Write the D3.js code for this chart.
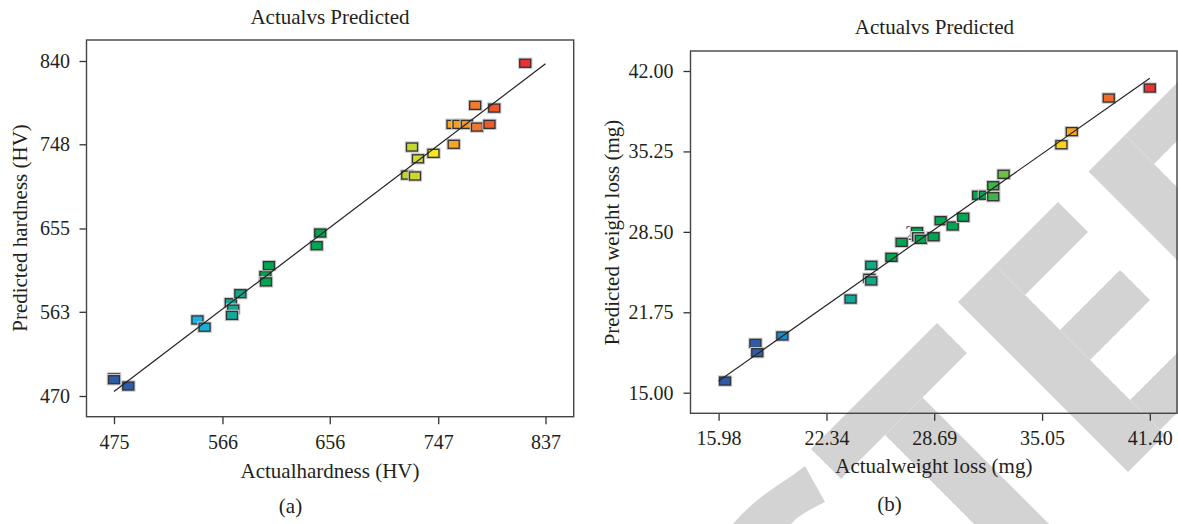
<!DOCTYPE html>
<html><head><meta charset="utf-8">
<script src="https://cdn.jsdelivr.net/npm/d3@7"></script>
<style>body{margin:0;background:#fff}svg{display:block}</style>
</head><body><svg id="c" width="1178" height="524"></svg>
<script>
// ---- data: panel (a) hardness ----
const actualHardness    = [475, 475, 487, 545, 551, 573, 575, 574, 581, 602, 602.5, 605, 645, 648, 721, 727.5, 725, 730, 743, 760, 759, 764, 771, 779.5, 778, 790, 794, 820];
const predictedHardness = [490, 488, 481, 554, 546, 573, 566, 559, 583, 603, 596, 614, 636, 650, 714, 713, 745, 732, 738, 748, 770, 770, 770, 767, 791, 770, 788, 837.5];
const hardnessXTicks = [475, 566, 656, 747, 837];
const hardnessYTicks = [470, 563, 655, 748, 840];
// ---- data: panel (b) weight loss ----
const actualWeightLoss    = [16.36, 18.15, 18.26, 19.74, 23.76, 24.87, 24.98, 24.98, 26.17, 26.77, 27.68, 27.74, 27.90, 28.65, 29.07, 29.78, 30.40, 31.28, 31.68, 32.17, 32.17, 32.78, 36.19, 36.80, 38.98, 41.40];
const predictedWeightLoss = [15.98, 19.14, 18.36, 19.76, 22.86, 24.60, 24.38, 25.69, 26.36, 27.62, 28.51, 28.09, 27.87, 28.09, 29.44, 28.99, 29.72, 31.57, 31.57, 31.45, 32.37, 33.33, 35.81, 36.91, 39.73, 40.57];
const weightXTicks = [15.98, 22.34, 28.69, 35.05, 41.40];
const weightYTicks = [15.00, 21.75, 28.50, 35.25, 42.00];
const duplicateIndex = 10, duplicateText = "2";

const titles = ["Actualvs Predicted", "Actualvs Predicted"];
const xTitles = ["Actualhardness (HV)", "Actualweight loss (mg)"];
const yTitles = ["Predicted hardness (HV)", "Predicted weight loss (mg)"];
const panelTags = ["(a)", "(b)"];

// colour ramps (by actual value)
const rampA = [[475,"#2d5ba8"],[500,"#2d5ba8"],[545,"#1ab2e2"],[573,"#13a89e"],[601,"#00a651"],[650,"#00a651"],[721,"#bdd433"],[730,"#d0db2c"],[743,"#f5e71c"],[759,"#f7a523"],[771,"#f7961e"],[779,"#f2772e"],[790,"#f05b29"],[820,"#ec2f33"]];
const rampB = [[16.36,"#2d5ba8"],[18.3,"#2d5ba8"],[19.74,"#1b8ccb"],[23.76,"#11a99b"],[25,"#10a887"],[26.2,"#00a651"],[31.7,"#00a651"],[32.17,"#3cb54a"],[32.78,"#6cbe45"],[36.19,"#fdd116"],[36.8,"#f9a81d"],[38.98,"#f26a2b"],[41.4,"#ec3237"]];

const FONT = "'Liberation Serif','Times New Roman',serif";
const INK = "#231f20";
const svg = d3.select("#c");
svg.append("rect").attr("width",1178).attr("height",524).attr("fill","#fff");

// ---- watermark (diagonal letters), drawn underneath ----
const wm = svg.append("g").attr("fill","#d3d3d3");
const pq = (p,q) => [(p+q)/2, (p-q)/2];
const band = (p0,p1,q0,q1) => [pq(p0,q0),pq(p0,q1),pq(p1,q1),pq(p1,q0)];
const shapes = [
  band(1260,1320,362,614), band(1320,1600,450,525),              // T
  band(1260,1600,656,730), band(1260,1320,730,856), band(1390,1450,730,850), band(1530,1590,730,1120), // E
  band(1260,1600,917,990), band(1260,1318,990,1200),              // D
  [[731,526],[742,514],[755,502],[768,492],[781,483],[793,475],[805,466],[825,502],[815,507],[806,512],[797,518],[789,526]] // C
];
const closed = d3.line().curve(d3.curveLinearClosed);
shapes.forEach(s => wm.append("path").attr("d", closed(s)));

function panel(o){
  const g = svg.append("g");
  const x = d3.scaleLinear().domain([o.xt[0], o.xt[o.xt.length-1]]).range(o.xr);
  const y = d3.scaleLinear().domain([o.yt[0], o.yt[o.yt.length-1]]).range(o.yr);
  const col = d3.scaleLinear().domain(o.ramp.map(d=>d[0])).range(o.ramp.map(d=>d[1])).clamp(true);
  const [fx0, fy0, fx1, fy1] = o.frame;

  const ax = g.append("g").attr("transform",`translate(0,${fy1})`)
    .call(d3.axisBottom(x).tickValues(o.xt).tickFormat(o.fmt).tickSize(7.5).tickSizeOuter(0).tickPadding(o.xpad));
  const ay = g.append("g").attr("transform",`translate(${fx0},0)`)
    .call(d3.axisLeft(y).tickValues(o.yt).tickFormat(o.fmt).tickSize(7).tickSizeOuter(0).tickPadding(o.ypad));
  [ax, ay].forEach(a => {
    a.select(".domain").remove();
    a.selectAll("line").attr("stroke","#333").attr("stroke-width",1.3);
    a.selectAll("text").attr("font-family",FONT).attr("font-size",20).attr("fill",INK);
  });

  g.append("rect").attr("x",fx0).attr("y",fy0).attr("width",fx1-fx0).attr("height",fy1-fy0)
    .attr("fill","none").attr("stroke","#444").attr("stroke-width",1.4);

  if (o.dup != null) {
    g.append("text").attr("x", x(o.xs[o.dup]) - 7).attr("y", y(o.ys[o.dup]) + 8)
      .attr("text-anchor","middle").attr("font-family",FONT).attr("font-size",20).attr("fill","#444").text(o.dupText);
  }

  const pts = g.append("g").selectAll("g").data(o.xs.map((v,i)=>({a:v,p:o.ys[i]}))).join("g")
    .attr("transform", d => `translate(${x(d.a)},${y(d.p)})`);
  pts.append("rect").attr("x",-5.5).attr("y",-4).attr("width",11).attr("height",8)
    .attr("fill","none").attr("stroke","#c8c8c8").attr("stroke-width",3.4);
  pts.append("rect").attr("x",-5.5).attr("y",-4).attr("width",11).attr("height",8)
    .attr("fill", d => col(d.a)).attr("stroke","#333").attr("stroke-width",1.3);

  const lo = o.xt[0], hi = o.xt[o.xt.length-1];
  g.append("line").attr("x1",x(lo)).attr("y1",y(lo)).attr("x2",x(hi)).attr("y2",y(hi))
    .attr("stroke","#222").attr("stroke-width",1.2);

  const T = (txt, x0, y0, size, rot) => g.append("text").attr("text-anchor","middle")
    .attr("font-family",FONT).attr("font-size",size).attr("fill",INK)
    .attr("transform", `translate(${x0},${y0})` + (rot ? " rotate(-90)" : "")).text(txt);
  T(o.title, o.titlePos[0], o.titlePos[1], 21);
  T(o.xTitle, o.xTitlePos[0], o.xTitlePos[1], 21);
  T(o.yTitle, o.yTitlePos[0], o.yTitlePos[1], 21, true);
  T(o.tag, o.tagPos[0], o.tagPos[1], 21);
}

panel({xs: actualHardness, ys: predictedHardness, xt: hardnessXTicks, yt: hardnessYTicks, fmt: d3.format("d"),
  xr:[114,545.5], yr:[396,61], frame:[86.5,40,573.7,416.7], xpad:11, ypad:9.5, ramp: rampA,
  title: titles[0], titlePos:[330,24], xTitle: xTitles[0], xTitlePos:[330,477.5],
  yTitle: yTitles[0], yTitlePos:[27,228], tag: panelTags[0], tagPos:[290.5,513]});

panel({xs: actualWeightLoss, ys: predictedWeightLoss, xt: weightXTicks, yt: weightYTicks, fmt: d => d.toFixed(2),
  xr:[718.6,1149.8], yr:[392.7,71], frame:[690.5,51,1177,413.3], xpad:10.5, ypad:10, ramp: rampB,
  dup: duplicateIndex, dupText: duplicateText,
  title: titles[1], titlePos:[934.4,34], xTitle: xTitles[1], xTitlePos:[933.8,473],
  yTitle: yTitles[1], yTitlePos:[619,232.5], tag: panelTags[1], tagPos:[889.5,511]});
</script></body></html>
